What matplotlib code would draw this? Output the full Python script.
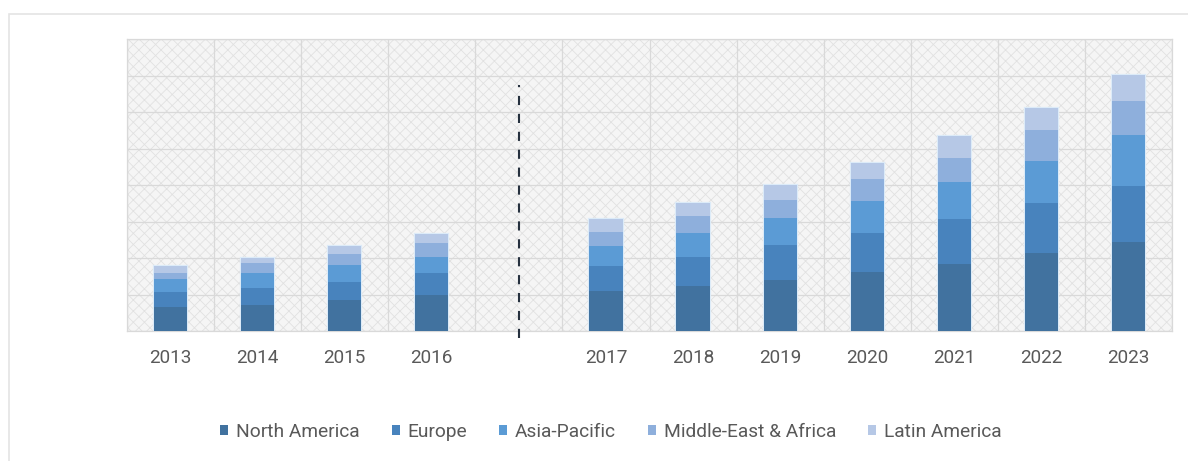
import numpy as np
import matplotlib
matplotlib.use("Agg")
import matplotlib.pyplot as plt
from matplotlib.patches import Rectangle

# Market size by region (arbitrary units), 2013-2016 historical, 2017-2023 forecast
years = ["2013", "2014", "2015", "2016", "2017", "2018", "2019", "2020", "2021", "2022", "2023"]
north_america = [0.66, 0.70, 0.84, 0.98, 1.09, 1.23, 1.41, 1.62, 1.85, 2.13, 2.45]
europe = [0.40, 0.48, 0.50, 0.60, 0.70, 0.80, 0.94, 1.06, 1.22, 1.38, 1.54]
asia_pacific = [0.37, 0.40, 0.46, 0.46, 0.55, 0.67, 0.74, 0.89, 1.01, 1.15, 1.38]
middle_east_africa = [0.16, 0.28, 0.32, 0.37, 0.39, 0.46, 0.50, 0.60, 0.68, 0.85, 0.94]
latin_america = [0.20, 0.15, 0.20, 0.25, 0.34, 0.34, 0.43, 0.44, 0.58, 0.60, 0.72]

series = [
    ("North America", north_america, "#41729f"),
    ("Europe", europe, "#4883bd"),
    ("Asia-Pacific", asia_pacific, "#5b9bd5"),
    ("Middle-East & Africa", middle_east_africa, "#8eafdc"),
    ("Latin America", latin_america, "#b6c8e6"),
]

plt.rcParams["font.family"] = ["Roboto", "DejaVu Sans"]
plt.rcParams["hatch.linewidth"] = 0.6

fig = plt.figure(figsize=(11.88, 4.61), dpi=100)
ax = fig.add_axes([127 / 1188, 1 - 331 / 461, (1172 - 127) / 1188, (331 - 39.5) / 461])

# one empty slot separates the historical and forecast years
n_hist = 4
pos = np.arange(len(years)) + (np.arange(len(years)) >= n_hist)
gap_x = n_hist

# textured plot-area background
ax.set_facecolor("white")
ax.add_patch(Rectangle((0, 0), 1, 1, transform=ax.transAxes, facecolor="#f5f5f5",
                       edgecolor="#e1e1e1", hatch="xxx", lw=0, zorder=0))

bottom = np.zeros(len(years))
handles = []
for name, vals, color in series:
    vals = np.asarray(vals)
    b = ax.bar(pos, vals, width=0.38, bottom=bottom, color=color, edgecolor="none",
               zorder=3, label=name)
    handles.append(b)
    bottom += vals

# soft halo around each full stack
ax.bar(pos, bottom, width=0.38, color="none", edgecolor="#dcebf8", lw=1.6, zorder=2)

ax.set_xlim(-0.5, len(years) + 0.5)
ax.set_ylim(0, 8)
ax.set_yticks(np.arange(0, 9, 1))
ax.set_yticklabels([])
ax.set_xticks(pos)
ax.set_xticklabels(years, color="#595959", fontsize=13.6)
ax.set_xticks(np.arange(-0.5, len(years) + 1, 1), minor=True)
ax.tick_params(axis="both", which="both", length=0)
ax.tick_params(axis="x", pad=13)
ax.grid(axis="y", which="major", color="#d9d9d9", lw=0.9, zorder=1)
ax.grid(axis="x", which="minor", color="#d9d9d9", lw=0.9, zorder=1)
for s in ax.spines.values():
    s.set_color("#d9d9d9")
    s.set_linewidth(0.9)

# separator between historical and forecast periods
ax.plot([gap_x, gap_x], [-0.18, 6.76], color="#26313f", lw=1.5,
        linestyle=(0, (4.4, 4.2)), zorder=4, clip_on=False)

leg = fig.legend(handles=handles, loc="center", bbox_to_anchor=(611 / 1188, 1 - 432 / 461),
                 ncol=5, frameon=False, fontsize=13.8, handlelength=0.42, handleheight=0.42,
                 handletextpad=0.42, columnspacing=1.65)
for t in leg.get_texts():
    t.set_color("#595959")

# outer chart frame
fig.patches.append(Rectangle((9 / 1188, -0.1), 1.2, 1 - 14 / 461 + 0.1, transform=fig.transFigure,
                             facecolor="none", edgecolor="#e4e4e4", lw=1.2, zorder=0))

fig.savefig("out.png", dpi=100, facecolor="white")
